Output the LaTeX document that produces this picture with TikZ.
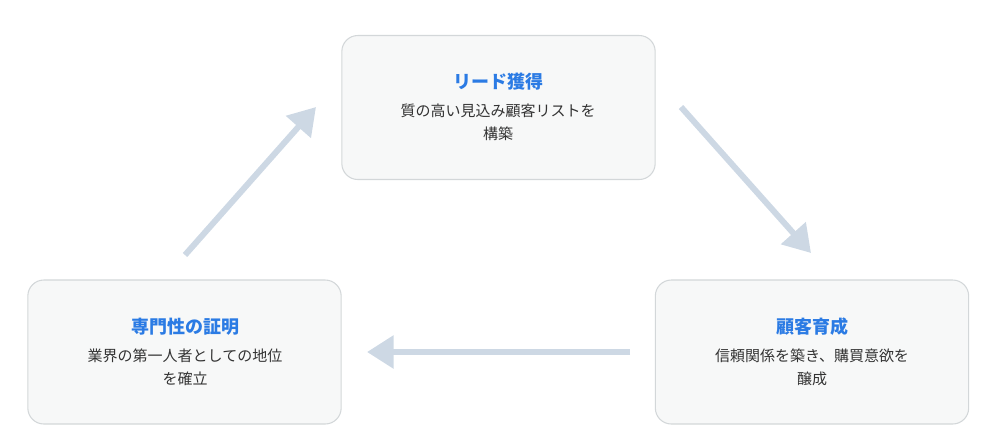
\documentclass[tikz,border=0pt]{standalone}
\usepackage{fontspec}
\setmainfont{Noto Sans CJK JP}
\usetikzlibrary{arrows.meta}
\definecolor{boxfill}{HTML}{F7F8F8}
\definecolor{boxline}{HTML}{D3D7D9}
\definecolor{titleblue}{HTML}{2B7BE4}
\definecolor{bodytext}{HTML}{333333}
\definecolor{arrowcol}{HTML}{CDD8E4}
\tikzset{
  stepbox/.style={draw=boxline, fill=boxfill, line width=0.8pt, rounded corners=12pt, minimum width=235pt, minimum height=108pt},
  ttl/.style={text=titleblue, font=\fontsize{13.5pt}{16pt}\selectfont\bfseries},
  bdy/.style={text=bodytext, font=\fontsize{11.25pt}{17pt}\selectfont, align=center},
  flow/.style={draw=arrowcol, line width=4.5pt, -{Triangle[length=20pt,width=24pt]}}
}
\begin{document}
\begin{tikzpicture}[x=0.75pt,y=-0.75pt]
\useasboundingbox (0,0) rectangle (988,437);
\node[stepbox] (b1) at (498.5,107.5) {};
\node[stepbox] (b2) at (184.5,352) {};
\node[stepbox] (b3) at (812,352) {};
\node[ttl] (t1) at (498,82) {リード獲得};
\node[bdy] (d1) at (498,122) {質の高い見込み顧客リストを\\構築};
\node[ttl] (t2) at (185,327) {専門性の証明};
\node[bdy] (d2) at (185,367) {業界の第一人者としての地位\\を確立};
\node[ttl] (t3) at (812,327) {顧客育成};
\node[bdy] (d3) at (812,367) {信頼関係を築き、購買意欲を\\醸成};
\coordinate (a1s) at (185,255); \coordinate (a1e) at (316,107);
\coordinate (a2s) at (681,107); \coordinate (a2e) at (811,253);
\coordinate (a3s) at (630,352); \coordinate (a3e) at (367,352);
\draw[flow] (a1s) -- (a1e);
\draw[flow] (a2s) -- (a2e);
\draw[flow] (a3s) -- (a3e);
\end{tikzpicture}
\end{document}
